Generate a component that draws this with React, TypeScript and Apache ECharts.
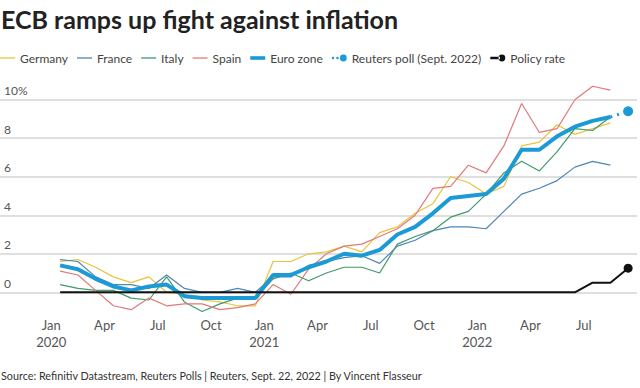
import React, { useEffect, useRef } from "react";
import * as echarts from "echarts";

// Months from Jan 2020 (index 0) to Sep 2022 (index 32)
const monthLabels = [
  "Jan 2020","Feb 2020","Mar 2020","Apr 2020","May 2020","Jun 2020","Jul 2020","Aug 2020","Sep 2020","Oct 2020","Nov 2020","Dec 2020",
  "Jan 2021","Feb 2021","Mar 2021","Apr 2021","May 2021","Jun 2021","Jul 2021","Aug 2021","Sep 2021","Oct 2021","Nov 2021","Dec 2021",
  "Jan 2022","Feb 2022","Mar 2022","Apr 2022","May 2022","Jun 2022","Jul 2022","Aug 2022","Sep 2022",
];

// Tick labels every 3 months starting Jan 2020
const tickLabels = [
  "Jan\n2020","Apr","Jul","Oct",
  "Jan\n2021","Apr","Jul","Oct",
  "Jan\n2022","Apr","Jul",
];

const germany = [1.6,1.7,1.3,0.8,0.5,0.8,0.0,-0.1,-0.4,-0.5,-0.7,-0.7, 1.6,1.6,2.0,2.1,2.4,2.1,3.1,3.4,4.1,4.6,6.0,5.7, 5.1,5.5,7.6,7.8,8.7,8.2,8.5,8.8];
const france = [1.7,1.6,0.8,0.4,0.4,0.2,0.9,0.2,0.0,0.0,0.2,0.0, 0.8,0.8,1.4,1.6,1.8,1.9,1.5,2.4,2.7,3.2,3.4,3.4, 3.3,4.2,5.1,5.4,5.8,6.5,6.8,6.6];
const italy = [0.4,0.2,0.1,0.1,-0.3,-0.4,0.8,-0.5,-1.0,-0.6,-0.3,-0.3, 0.7,1.0,0.6,1.0,1.3,1.3,1.0,2.5,2.9,3.2,3.9,4.2, 5.1,6.2,6.8,6.3,7.3,8.5,8.4,9.1];
const spain = [1.1,0.9,0.1,-0.7,-0.9,-0.3,-0.7,-0.6,-0.6,-0.9,-0.8,-0.6, 0.4,-0.1,1.2,2.0,2.4,2.5,2.9,3.3,4.0,5.4,5.5,6.6, 6.2,7.6,9.8,8.3,8.5,10.0,10.7,10.5];
const euroZone = [1.4,1.2,0.7,0.3,0.1,0.3,0.4,-0.2,-0.3,-0.3,-0.3,-0.3, 0.9,0.9,1.3,1.6,2.0,1.9,2.2,3.0,3.4,4.1,4.9,5.0, 5.1,5.9,7.4,7.4,8.1,8.6,8.9,9.1];
// Reuters poll: last actual (Aug 2022) then poll for Sept 2022
const pollMonths = [31, 32];
const pollValues = [9.1, 9.4];
const policyRate = [0,0,0,0,0,0,0,0,0,0,0,0, 0,0,0,0,0,0,0,0,0,0,0,0, 0,0,0,0,0,0,0.5,0.5,1.25];

const COLORS = {
  germany: "#e8c53a",
  france: "#4f86b6",
  italy: "#3f9a6c",
  spain: "#e07a7a",
  euro: "#1b9ad6",
  policy: "#111111",
};

const FONT = "Lato";
const SHIFT = 5; // chart div starts 5px left of the page edge

const toPairs = (vals: number[]) => vals.map((v, i) => [i + 0.5, v]);

const thinIcon = "path://M0,0 L15,0 L15,1.3 L0,1.3 Z";
const thickIcon = "path://M0,0 L15,0 L15,3.6 L0,3.6 Z";
const pollIcon =
  "path://M0,3.5 A1.3,1.3 0 1 0 2.6,3.5 A1.3,1.3 0 1 0 0,3.5 Z M4.6,3.5 A1.3,1.3 0 1 0 7.2,3.5 A1.3,1.3 0 1 0 4.6,3.5 Z M8.5,3.5 A3.5,3.5 0 1 0 15.5,3.5 A3.5,3.5 0 1 0 8.5,3.5 Z";
const policyIcon =
  "path://M0,2.3 L10,2.3 L10,4.7 L0,4.7 Z M8.5,3.5 A3.5,3.5 0 1 0 15.5,3.5 A3.5,3.5 0 1 0 8.5,3.5 Z";

export default function App() {
  const ref = useRef<HTMLDivElement>(null);

  useEffect(() => {
    if (!ref.current) return;
    const chart = echarts.init(ref.current, undefined, { renderer: "svg" });
    const thin = (color: string) => ({ color, width: 1.2 });
    const lastOnly = (len: number, size: number) => (_v: any, p: any) =>
      p.dataIndex === len - 1 ? size : 0;

    chart.setOption({
      animation: false,
      textStyle: { fontFamily: FONT },
      title: [
        {
          text: "ECB ramps up fight against inflation",
          left: SHIFT + 1,
          top: 6,
          padding: 0,
          textStyle: { fontFamily: FONT, fontWeight: "bold", fontSize: 25, color: "#222" },
        },
        {
          text: "Source: Refinitiv Datastream, Reuters Polls | Reuters, Sept. 22, 2022 | By Vincent Flasseur",
          left: SHIFT + 1,
          top: 370,
          padding: 0,
          textStyle: { fontFamily: FONT, fontWeight: "normal", fontSize: 10.8, color: "#333" },
        },
      ],
      legend: {
        left: SHIFT,
        top: 52,
        padding: 0,
        itemGap: 9,
        itemWidth: 15,
        itemHeight: 14,
        textStyle: { fontFamily: FONT, fontSize: 12, color: "#444" },
        data: [
          { name: "Germany", icon: thinIcon },
          { name: "France", icon: thinIcon },
          { name: "Italy", icon: thinIcon },
          { name: "Spain", icon: thinIcon },
          { name: "Euro zone", icon: thickIcon },
          { name: "Reuters poll (Sept. 2022)", icon: pollIcon },
          { name: "Policy rate", icon: policyIcon },
        ],
      },
      grid: { left: 0, right: 2.5, top: 99.7, bottom: 95.7 },
      xAxis: {
        type: "value",
        min: -3,
        max: 33,
        interval: 3,
        axisLine: { show: false },
        axisTick: { show: false },
        splitLine: { show: false },
        axisLabel: {
          margin: 24,
          fontSize: 13,
          lineHeight: 17,
          color: "#555",
          fontFamily: FONT,
          formatter: (v: number) => {
            const idx = Math.round(v / 3);
            if (v < 0 || idx >= tickLabels.length) return "";
            return tickLabels[idx];
          },
        },
      },
      yAxis: {
        type: "value",
        min: 0,
        max: 10,
        interval: 2,
        axisLine: { show: false },
        axisTick: { show: false },
        splitLine: { lineStyle: { color: "#d4d4d4", width: 1.5 } },
        axisLabel: {
          inside: true,
          margin: 6,
          verticalAlign: "bottom",
          lineHeight: 18,
          fontSize: 12,
          color: "#555",
          fontFamily: FONT,
          formatter: (v: number) => (v === 10 ? "10%" : String(v)),
        },
      },
      series: [
        { name: "Germany", type: "line", data: toPairs(germany), symbol: "none", clip: false, lineStyle: thin(COLORS.germany), itemStyle: { color: COLORS.germany } },
        { name: "France", type: "line", data: toPairs(france), symbol: "none", clip: false, lineStyle: thin(COLORS.france), itemStyle: { color: COLORS.france } },
        { name: "Italy", type: "line", data: toPairs(italy), symbol: "none", clip: false, lineStyle: thin(COLORS.italy), itemStyle: { color: COLORS.italy } },
        { name: "Spain", type: "line", data: toPairs(spain), symbol: "none", clip: false, lineStyle: thin(COLORS.spain), itemStyle: { color: COLORS.spain } },
        { name: "Euro zone", type: "line", data: toPairs(euroZone), symbol: "none", clip: false, lineStyle: { color: COLORS.euro, width: 4 }, itemStyle: { color: COLORS.euro } },
        {
          name: "Reuters poll (Sept. 2022)",
          type: "line",
          data: pollMonths.map((m, i) => [m + 0.5, pollValues[i]]),
          symbol: "circle",
          symbolSize: lastOnly(pollValues.length, 10),
          showSymbol: true,
          clip: false,
          lineStyle: { color: COLORS.euro, width: 3, type: [2, 5] },
          itemStyle: { color: COLORS.euro },
        },
        {
          name: "Policy rate",
          type: "line",
          data: toPairs(policyRate),
          symbol: "circle",
          symbolSize: lastOnly(policyRate.length, 9),
          showSymbol: true,
          clip: false,
          lineStyle: { color: COLORS.policy, width: 2 },
          itemStyle: { color: COLORS.policy },
        },
      ],
    });
    return () => chart.dispose();
  }, []);

  return (
    <div
      ref={ref}
      style={{ position: "absolute", left: -SHIFT, top: 0, width: 640 + SHIFT, height: 388 }}
      data-months={monthLabels.length}
    />
  );
}
